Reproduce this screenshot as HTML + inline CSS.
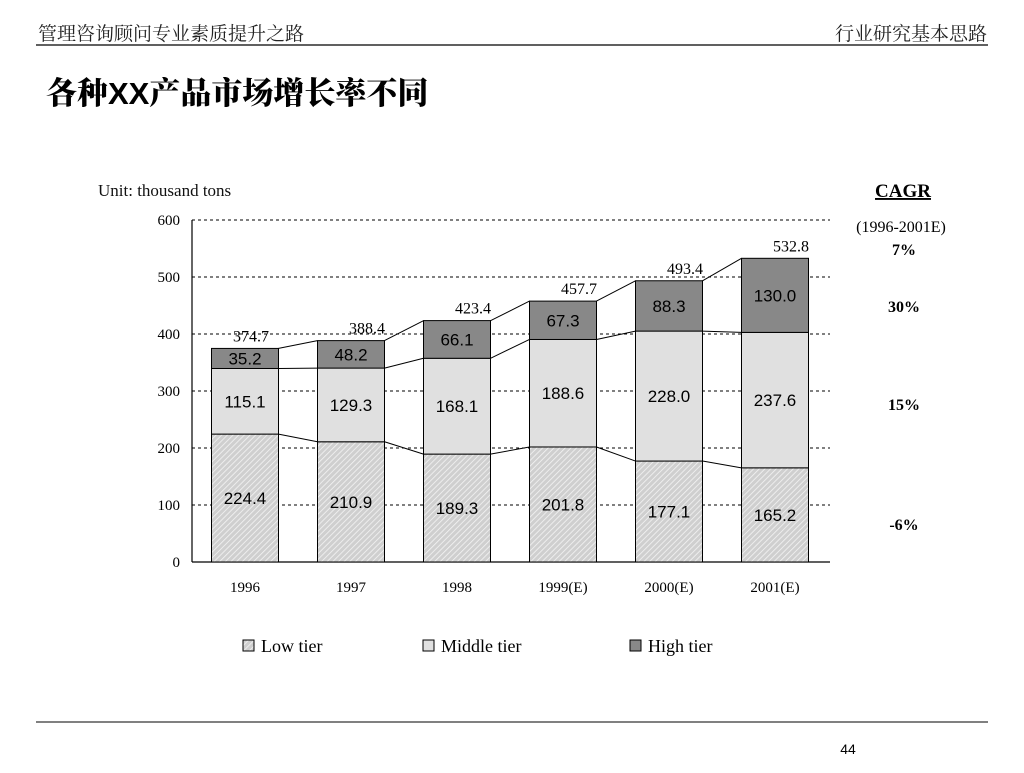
<!DOCTYPE html>
<html><head><meta charset="utf-8"><style>
body{margin:0;background:#fff;}
svg text{font-family:"Liberation Serif","Noto Serif CJK SC",serif;}
</style></head><body>
<svg width="1024" height="768" xmlns="http://www.w3.org/2000/svg">
<defs><pattern id="hatch" width="4" height="4" patternUnits="userSpaceOnUse" patternTransform="rotate(45)"><rect width="4" height="4" fill="#cfcfcf"/><line x1="0" y1="0" x2="0" y2="4" stroke="#f4f4f4" stroke-width="1.6"/></pattern></defs>
<text x="38" y="40" font-size="19" fill="#222" font-family="Noto Serif CJK SC,serif">管理咨询顾问专业素质提升之路</text>
<text x="987" y="40" font-size="19" fill="#222" text-anchor="end" font-family="Noto Serif CJK SC,serif">行业研究基本思路</text>
<line x1="36" y1="45" x2="988" y2="45" stroke="#000" stroke-width="1.2"/>
<text x="46" y="104" font-size="31" font-weight="900" fill="#000" style="font-family:'Liberation Sans','Noto Serif CJK SC',serif">各种XX产品市场增长率不同</text>
<text x="98" y="196" font-size="17" fill="#111">Unit: thousand tons</text>
<text x="903" y="197" font-size="19" font-weight="bold" text-anchor="middle" text-decoration="underline">CAGR</text>
<text x="901" y="232" font-size="16" text-anchor="middle">(1996-2001E)</text>
<g id="chart"></g>
<g>
<rect x="243" y="640" width="11" height="11" fill="url(#hatch)" stroke="#000"/>
<text x="261" y="652" font-size="18">Low tier</text>
<rect x="423" y="640" width="11" height="11" fill="#e0e0e0" stroke="#000"/>
<text x="441" y="652" font-size="18">Middle tier</text>
<rect x="630" y="640" width="11" height="11" fill="#888" stroke="#000"/>
<text x="648" y="652" font-size="18">High tier</text>
</g>
<line x1="36" y1="722" x2="988" y2="722" stroke="#000" stroke-width="1"/>
<text x="848" y="754" font-size="14" text-anchor="middle" style="font-family:'Liberation Sans',sans-serif">44</text>
</svg>
<script>
const categories=["1996","1997","1998","1999(E)","2000(E)","2001(E)"];
const lowTier=[224.4,210.9,189.3,201.8,177.1,165.2];
const middleTier=[115.1,129.3,168.1,188.6,228.0,237.6];
const highTier=[35.2,48.2,66.1,67.3,88.3,130.0];
const totals=[374.7,388.4,423.4,457.7,493.4,532.8];
const yTicks=[0,100,200,300,400,500,600];
const cagrLabels=["7%","30%","15%","-6%"];
const NS="http://www.w3.org/2000/svg";
const g=document.getElementById('chart');
const x0=192,x1=828,y0=562,yTop=220,band=(x1-x0)/categories.length,bw=67;
const y=v=>y0-(v/600)*(y0-yTop);
const cx=i=>x0+band*(i+0.5);
function mk(t,a,p){const e=document.createElementNS(NS,t);for(const k in a)e.setAttribute(k,a[k]);(p||g).appendChild(e);return e;}
yTicks.forEach(t=>{
 if(t>0){const l=mk('line',{x1:x0,y1:y(t),x2:x1+2,y2:y(t),stroke:'#000','stroke-dasharray':'3,3','stroke-width':1});
 
 }
 const tx=mk('text',{x:x0-12,y:y(t)+5,'font-size':15,'text-anchor':'end'});tx.textContent=t;
 
 
});
const ax=mk('line',{x1:x0,y1:yTop,x2:x0,y2:y0,stroke:'#000','stroke-width':1.2});


const bx=mk('line',{x1:x0,y1:y0,x2:x1+2,y2:y0,stroke:'#000','stroke-width':1.2});


const series=[[lowTier,'url(#hatch)','low'],[middleTier,'#e0e0e0','middle'],[highTier,'#888','high']];
categories.forEach((c,i)=>{
 let base=0;
 series.forEach(([arr,fill,nm])=>{
  const v=arr[i];
  const r=mk('rect',{x:cx(i)-bw/2,y:y(base+v),width:bw,height:y(base)-y(base+v),fill:fill,stroke:'#000','stroke-width':1});
  
  
  const t=mk('text',{x:cx(i),y:y(base+v/2)+6,'font-size':17,'text-anchor':'middle',style:"font-family:'Liberation Sans',sans-serif"});
  t.textContent=v.toFixed(1);
  
  
  base+=v;
 });
 const tt=mk('text',{x:cx(i)+(i==0?6:16),y:y(totals[i])-7,'font-size':16,'text-anchor':'middle'});
 tt.textContent=totals[i].toFixed(1);
 
 
 const xl=mk('text',{x:cx(i),y:592,'font-size':15,'text-anchor':'middle'});
 xl.textContent=c;
 
 
 if(i<categories.length-1){
  const lv=[lowTier,lowTier.map((v,k)=>v+middleTier[k]),totals];
  lv.forEach((a,k)=>{
   const l=mk('line',{x1:cx(i)+bw/2,y1:y(a[i]),x2:cx(i+1)-bw/2,y2:y(a[i+1]),stroke:'#000','stroke-width':1});
   
   
  });
 }
});
const cagrY=[249,306,404,524];
cagrLabels.forEach((s,k)=>{
 const t=mk('text',{x:904,y:cagrY[k]+6,'font-size':16,'font-weight':'bold','text-anchor':'middle'});
 t.textContent=s;
 
 
});
</script>
</body></html>
